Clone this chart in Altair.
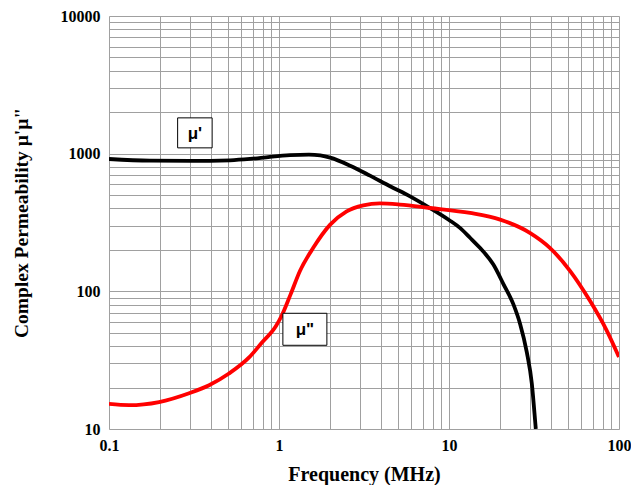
import altair as alt
import pandas as pd

# mu' (black) curve
f_mu1 = [0.1, 0.174, 0.3, 0.515, 0.675, 0.885, 1.16, 1.5, 1.75, 2.0, 2.62, 3.43, 4.5, 5.9, 7.73, 10.0,
         11.6, 13.3, 15.2, 18.2, 20.9, 23.9, 26.2, 28.7, 30.7, 32.1, 32.4]
v_mu1 = [915, 890, 885, 895, 915, 948, 975, 985, 970, 935, 818, 692, 580, 490, 403, 330,
         289, 245, 207, 157, 113, 80.7, 58, 36, 21.4, 11.5, 10]

# mu'' (red) curve
f_mu2 = [0.1, 0.131, 0.197, 0.296, 0.388, 0.508, 0.667, 0.794, 0.96, 1.04, 1.17, 1.33, 1.59, 2.0, 2.5,
         3.13, 3.92, 5.14, 7.73, 13.3, 20.0, 29.9, 39.2, 51.5, 67.5, 84.7, 100]
v_mu2 = [15.2, 14.9, 15.7, 18.2, 20.8, 25.3, 33.1, 42.5, 56, 67, 95, 141, 207, 305, 381,
         421, 435, 427, 403, 371, 332, 266, 207, 141, 85.3, 51.9, 33.3]

x_grid = [0.1, 0.2, 0.3, 0.4, 0.5, 0.6, 0.7, 0.8, 0.9,
          1, 2, 3, 4, 5, 6, 7, 8, 9,
          10, 20, 30, 40, 50, 60, 70, 80, 90, 100]
y_grid = [10, 20, 30, 40, 50, 60, 70, 80, 90,
          100, 200, 300, 400, 500, 600, 700, 800, 900,
          1000, 2000, 3000, 4000, 5000, 6000, 7000, 8000, 9000, 10000]
x_labels = [0.1, 1, 10, 100]
y_labels = [10, 100, 1000, 10000]

label_f = [0.32, 1.42]
label_v = [1416, 53]
label_t = ["\u03bc'", "\u03bc\""]
labels = pd.DataFrame({"f": label_f, "v": label_v, "t": label_t})

df1 = pd.DataFrame({"f": f_mu1, "v": v_mu1})
df2 = pd.DataFrame({"f": f_mu2, "v": v_mu2})

FONT = "Liberation Serif"
xs = alt.Scale(type="log", domain=[0.1, 100], nice=False)
ys = alt.Scale(type="log", domain=[10, 10000], nice=False)

xlab = "indexof(%s, datum.value) >= 0 ? datum.label : ''" % str(x_labels)
ylab = "indexof(%s, datum.value) >= 0 ? datum.label : ''" % str(y_labels)

xaxis = alt.Axis(values=x_grid, labelExpr=xlab, format="~g", title="Frequency (MHz)",
                 grid=True, gridColor="#a0a0a0", gridWidth=1, gridOpacity=1,
                 ticks=False, domain=False, labelFont=FONT, labelFontSize=16,
                 labelFontWeight="bold", labelColor="black", labelPadding=8,
                 titleFont=FONT, titleFontSize=20, titleFontWeight="bold",
                 titleColor="black", titlePadding=11, labelFlush=False)
yaxis = alt.Axis(values=y_grid, labelExpr=ylab, format="~g", title="Complex Permeability \u03bc'\u03bc\"",
                 grid=True, gridColor="#a0a0a0", gridWidth=1, gridOpacity=1,
                 ticks=False, domain=False, labelFont=FONT, labelFontSize=16,
                 labelFontWeight="bold", labelColor="black", labelPadding=9,
                 titleFont=FONT, titleFontSize=19.5, titleFontWeight="bold",
                 titleColor="black", titlePadding=29, labelFlush=False)

line1 = alt.Chart(df1).mark_line(color="black", strokeWidth=3.8, interpolate="monotone", clip=True).encode(
    x=alt.X("f:Q", scale=xs, axis=xaxis),
    y=alt.Y("v:Q", scale=ys, axis=yaxis),
)
line2 = alt.Chart(df2).mark_line(color="#ff0000", strokeWidth=3.8, interpolate="monotone", clip=True).encode(
    x=alt.X("f:Q", scale=xs),
    y=alt.Y("v:Q", scale=ys),
)

box1 = alt.Chart(labels.iloc[[0]]).mark_point(
    shape="M-1.15,-1L1.15,-1L1.15,1L-1.15,1Z", size=900, filled=True,
    fill="white", stroke="black", strokeWidth=1, opacity=1
).encode(x=alt.X("f:Q", scale=xs), y=alt.Y("v:Q", scale=ys))
box2 = alt.Chart(labels.iloc[[1]]).mark_point(
    shape="M-1.375,-1L1.375,-1L1.375,1L-1.375,1Z", size=1024, filled=True,
    fill="white", stroke="black", strokeWidth=1, opacity=1
).encode(x=alt.X("f:Q", scale=xs), y=alt.Y("v:Q", scale=ys))
txt = alt.Chart(labels).mark_text(font="Liberation Sans", fontSize=17, fontWeight="bold",
                                  color="black", baseline="middle", align="center", dy=1).encode(
    x=alt.X("f:Q", scale=xs), y=alt.Y("v:Q", scale=ys), text="t:N")

chart = alt.layer(line1, line2, box1, box2, txt).properties(
    width=510, height=413,
    autosize=alt.AutoSizeParams(type="none"),
    padding={"left": 101, "top": 8, "right": 12, "bottom": 56},
).configure_view(stroke="black", strokeWidth=2.5).configure(background="white")

chart.save("out.html", embed_options={"renderer": "svg", "actions": False})
